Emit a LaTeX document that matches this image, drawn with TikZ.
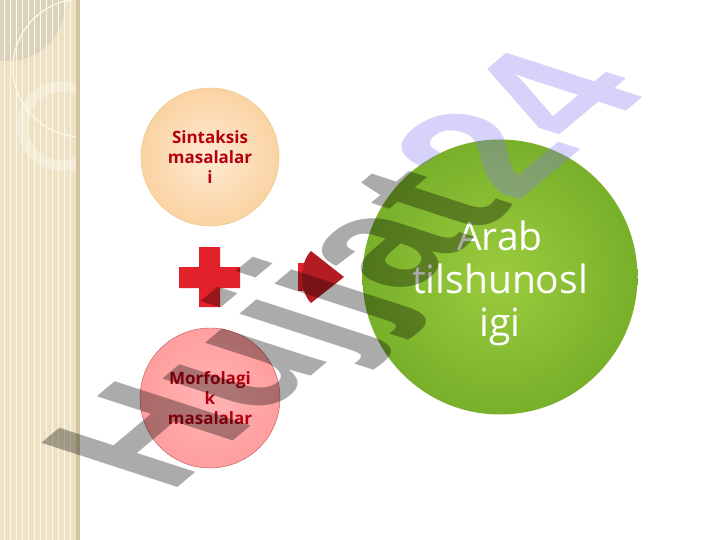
\documentclass[tikz,border=0pt]{standalone}
\usepackage{fontspec}
\setmainfont{Open Sans}
\newfontfamily\markfont{Liberation Sans}
\usetikzlibrary{positioning}

\definecolor{bandbeige}{HTML}{EEE2C2}
\definecolor{bandgray}{HTML}{DBD2BA}
\definecolor{bandedge}{HTML}{D3C5A2}
\definecolor{ringcream}{HTML}{FFF6DF}
\definecolor{peachin}{HTML}{FEEAD2}
\definecolor{peachout}{HTML}{FAD3A2}
\definecolor{peachline}{HTML}{F0C07C}
\definecolor{pinkin}{HTML}{FFB4B4}
\definecolor{pinkout}{HTML}{FF9E9E}
\definecolor{pinkline}{HTML}{B85858}
\definecolor{greenin}{HTML}{9CCC3E}
\definecolor{greenout}{HTML}{78B02A}
\definecolor{textred}{HTML}{B5000F}
\definecolor{plusred}{HTML}{E3212A}
\definecolor{headred}{HTML}{B41C24}
\definecolor{markviolet}{HTML}{8677F0}

\begin{document}
\begin{tikzpicture}[x=1pt, y=-1pt,
    bubble/.style={circle, inner sep=0pt, align=center},
    smalltext/.style={font=\bfseries\fontsize{17}{20}\selectfont, text=textred},
    bigtext/.style={font=\fontsize{39}{43}\selectfont, text=white, align=center}]
    \useasboundingbox (0,0) rectangle (720,540);
    \fill[white] (0,0) rectangle (720,540);

    % Left band with rings
    \begin{scope}
        \clip (0,0) rectangle (78,540);
        \fill[bandbeige] (0,0) rectangle (78,540);
        \fill[bandgray] (8,4) circle[radius=57pt];
        \fill[bandbeige!70!white] (62,126) circle[radius=45pt];
        \fill[bandbeige] (62,126) circle[radius=34pt];
        \draw[ringcream, line width=1.4pt] (82,68) circle[radius=69pt];
        \foreach \i in {4,10,...,76}
            \draw[bandedge!12, line width=0.5pt] (\i,0) -- (\i,540);
    \end{scope}
    \fill[bandedge] (76,0) rectangle (80,540);

    % Input circles
    \node[bubble, minimum size=138pt, inner color=peachin, outer color=peachout,
        draw=peachline, smalltext] (sin) at (210,157) {Sintaksis\\masalalar\\i};
    \node[bubble, minimum size=140pt, inner color=pinkin, outer color=pinkout,
        draw=pinkline, smalltext] (mor) at (210,398) {Morfolagi\\k\\masalalar};

    % Result circle
    \node[bubble, minimum size=275pt, inner color=greenin, outer color=greenout] (arab) at (500,277) {};
    \node[bigtext] (arabtext) at ([yshift=-6pt]arab.center) {Arab\\tilshunosl\\igi};

    % Plus sign
    \fill[plusred] (199,247) -- (220,247) -- (220,267) -- (240,267) -- (240,288)
        -- (220,288) -- (220,307) -- (199,307) -- (199,288) -- (179,288)
        -- (179,267) -- (199,267) -- cycle;

    % Arrow
    \fill[plusred] (298,263) rectangle (317,291);
    \fill[headred] (311,251) -- (344,277) -- (311,303)
        .. controls (299,291) and (299,263) .. (311,251);

    % Watermark
    \begin{scope}[shift={(169,495)}, cm={1.249,1.048,-1.978,0.643,(0,0)}]
        \node[transform shape, anchor=base west, inner sep=0pt,
            font=\markfont\bfseries\fontsize{100}{100}\selectfont,
            text opacity=0.33] (mark) at (0,0)
            {\textcolor{black}{Hujjat}\textcolor{markviolet}{24}};
    \end{scope}
\end{tikzpicture}
\end{document}
